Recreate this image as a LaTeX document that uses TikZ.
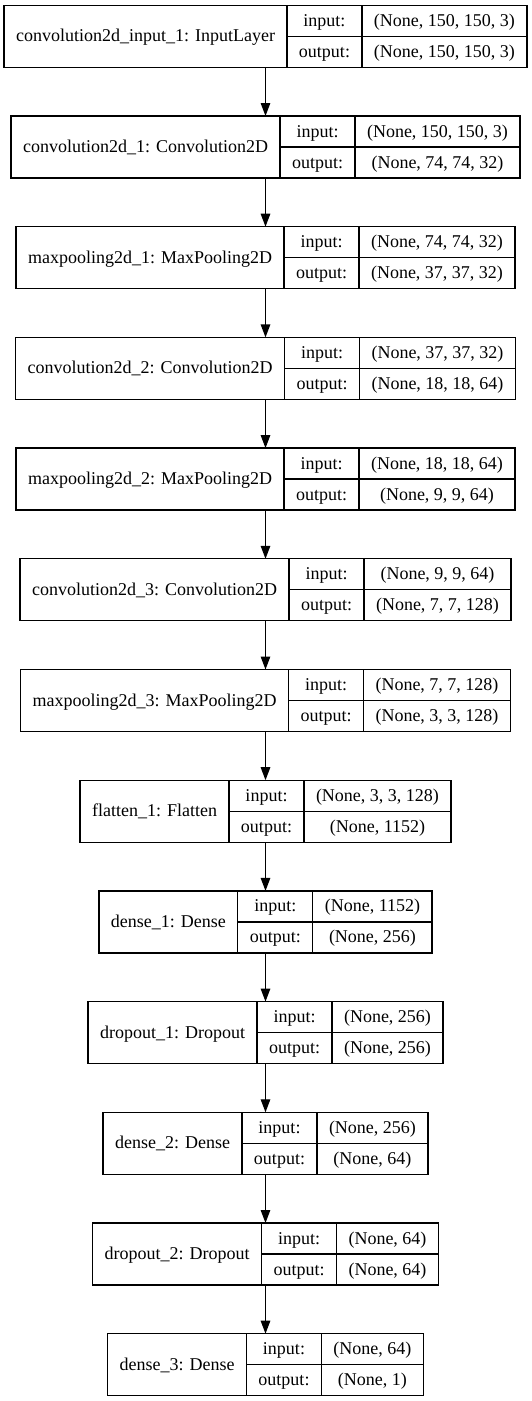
\documentclass[tikz,border=0pt]{standalone}
\usepackage{fontspec}
\setmainfont{Liberation Serif}
\usetikzlibrary{arrows.meta}
\newcommand\lfont{\fontsize{18}{21}\selectfont}
\newlength\lA \newlength\lB \newlength\lC \newlength\lD \newlength\lW
\tikzset{
  whole/.style={draw=none, inner sep=0pt, outer sep=0pt, minimum height=62pt},
  cell/.style={draw=black, line width=1.3pt, inner sep=0pt, outer sep=0pt, font=\lfont, text height=11pt, text depth=0pt},
  arr/.style={draw=black, line width=1.3pt, -{Triangle[length=13pt,width=9.5pt]}}
}
\newcommand\measurelayer[4]{%
  \settowidth\lA{\normalfont\lfont #2}\addtolength\lA{24pt}%
  \settowidth\lB{\normalfont\lfont output:}\addtolength\lB{24pt}%
  \settowidth\lC{\normalfont\lfont #3}\settowidth\lD{\normalfont\lfont #4}%
  \ifdim\lD>\lC \lC=\lD\fi
  \addtolength\lC{24pt}%
  \lW=\lA \advance\lW\lB \advance\lW\lC
  \expandafter\xdef\csname wA#1\endcsname{\the\lA}%
  \expandafter\xdef\csname wB#1\endcsname{\the\lB}%
  \expandafter\xdef\csname wC#1\endcsname{\the\lC}%
  \expandafter\xdef\csname wW#1\endcsname{\the\lW}%
}
\AtBeginDocument{%
\measurelayer{n1}{convolution2d\_input\_1: InputLayer}{(None, 150, 150, 3)}{(None, 150, 150, 3)}%
\measurelayer{n2}{convolution2d\_1: Convolution2D}{(None, 150, 150, 3)}{(None, 74, 74, 32)}%
\measurelayer{n3}{maxpooling2d\_1: MaxPooling2D}{(None, 74, 74, 32)}{(None, 37, 37, 32)}%
\measurelayer{n4}{convolution2d\_2: Convolution2D}{(None, 37, 37, 32)}{(None, 18, 18, 64)}%
\measurelayer{n5}{maxpooling2d\_2: MaxPooling2D}{(None, 18, 18, 64)}{(None, 9, 9, 64)}%
\measurelayer{n6}{convolution2d\_3: Convolution2D}{(None, 9, 9, 64)}{(None, 7, 7, 128)}%
\measurelayer{n7}{maxpooling2d\_3: MaxPooling2D}{(None, 7, 7, 128)}{(None, 3, 3, 128)}%
\measurelayer{n8}{flatten\_1: Flatten}{(None, 3, 3, 128)}{(None, 1152)}%
\measurelayer{n9}{dense\_1: Dense}{(None, 1152)}{(None, 256)}%
\measurelayer{n10}{dropout\_1: Dropout}{(None, 256)}{(None, 256)}%
\measurelayer{n11}{dense\_2: Dense}{(None, 256)}{(None, 64)}%
\measurelayer{n12}{dropout\_2: Dropout}{(None, 64)}{(None, 64)}%
\measurelayer{n13}{dense\_3: Dense}{(None, 64)}{(None, 1)}%
}
\newcommand\lbox[5]{%
  \node[whole, minimum width=\csname wW#1\endcsname] (#1) at (265.5pt,-#2pt-31pt) {};
  \node[cell, minimum width=\csname wA#1\endcsname, minimum height=62pt, anchor=north west] (#1-l) at (#1.north west) {#3};
  \node[cell, minimum width=\csname wB#1\endcsname, minimum height=31pt, anchor=north west] (#1-i) at (#1-l.north east) {input:};
  \node[cell, minimum width=\csname wB#1\endcsname, minimum height=31pt, anchor=north west] (#1-o) at (#1-i.south west) {output:};
  \node[cell, minimum width=\csname wC#1\endcsname, minimum height=31pt, anchor=north west] (#1-iv) at (#1-i.north east) {#4};
  \node[cell, minimum width=\csname wC#1\endcsname, minimum height=31pt, anchor=north west] (#1-ov) at (#1-iv.south west) {#5};
}
\begin{document}
\begin{tikzpicture}
\fill[white] (0,0) rectangle (531pt,-1401pt);
\useasboundingbox (0,0) rectangle (531pt,-1401pt);
\lbox{n1}{5.3}{convolution2d\_input\_1: InputLayer}{(None, 150, 150, 3)}{(None, 150, 150, 3)}
\lbox{n2}{116}{convolution2d\_1: Convolution2D}{(None, 150, 150, 3)}{(None, 74, 74, 32)}
\lbox{n3}{226.7}{maxpooling2d\_1: MaxPooling2D}{(None, 74, 74, 32)}{(None, 37, 37, 32)}
\lbox{n4}{337.4}{convolution2d\_2: Convolution2D}{(None, 37, 37, 32)}{(None, 18, 18, 64)}
\lbox{n5}{448.1}{maxpooling2d\_2: MaxPooling2D}{(None, 18, 18, 64)}{(None, 9, 9, 64)}
\lbox{n6}{558.8}{convolution2d\_3: Convolution2D}{(None, 9, 9, 64)}{(None, 7, 7, 128)}
\lbox{n7}{669.5}{maxpooling2d\_3: MaxPooling2D}{(None, 7, 7, 128)}{(None, 3, 3, 128)}
\lbox{n8}{780.2}{flatten\_1: Flatten}{(None, 3, 3, 128)}{(None, 1152)}
\lbox{n9}{890.9}{dense\_1: Dense}{(None, 1152)}{(None, 256)}
\lbox{n10}{1001.6}{dropout\_1: Dropout}{(None, 256)}{(None, 256)}
\lbox{n11}{1112.3}{dense\_2: Dense}{(None, 256)}{(None, 64)}
\lbox{n12}{1223}{dropout\_2: Dropout}{(None, 64)}{(None, 64)}
\lbox{n13}{1333.7}{dense\_3: Dense}{(None, 64)}{(None, 1)}
\foreach \a/\b in {n1/n2,n2/n3,n3/n4,n4/n5,n5/n6,n6/n7,n7/n8,n8/n9,n9/n10,n10/n11,n11/n12,n12/n13}
  \draw[arr] (\a.south) -- (\b.north);
\end{tikzpicture}
\end{document}
